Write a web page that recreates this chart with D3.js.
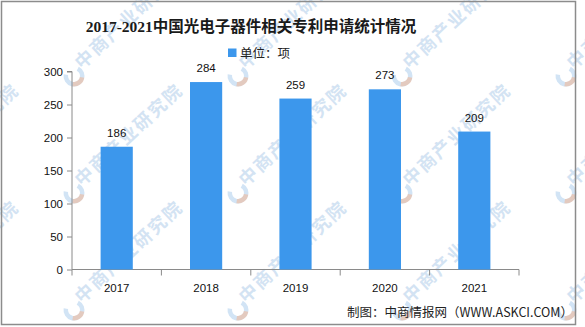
<!DOCTYPE html>
<html>
<head>
<meta charset="utf-8">
<script src="https://cdn.jsdelivr.net/npm/d3@7"></script>
<style>
  html, body { margin: 0; padding: 0; background: #fff; }
  svg { display: block; }
</style>
</head>
<body>
<svg id="chart" width="585" height="327"></svg>
<script>
// 2017-2021 中国光电子器件相关专利申请数量（项）
const years = ["2017", "2018", "2019", "2020", "2021"];
const patents = [186, 284, 259, 273, 209];
const yTicks = [0, 50, 100, 150, 200, 250, 300];

const titleText = "2017-2021中国光电子器件相关专利申请统计情况";
const legendText = "单位：项";
const sourceText = "制图：中商情报网（WWW.ASKCI.COM）";
const watermarkText = "中商产业研究院";

const svg = d3.select("#chart");
const barColor = "#3c97ec";
const axisColor = "#8a8a8a";
const labelFont = "'Liberation Sans', Arial, sans-serif";

// background watermark grid
const wm = svg.append("g").attr("class", "watermark");
const wmCols = [-90, 74, 238, 402, 566];
const wmRows = [76, 193, 310];
wmRows.forEach(wy => wmCols.forEach(wx => {
  const g = wm.append("g").attr("transform", `translate(${wx},${wy})`);
  const arc = d3.arc().innerRadius(6).outerRadius(10.5);
  g.append("path")
    .attr("d", arc({startAngle: Math.PI * 0.15, endAngle: Math.PI * 1.55}))
    .attr("fill", "#9cc3e8").attr("opacity", 0.45);
  g.append("path")
    .attr("d", arc({startAngle: Math.PI * 0.55, endAngle: Math.PI * 1.05}))
    .attr("fill", "#f3b08a").attr("opacity", 0.5);
  g.append("text")
    .attr("transform", "translate(8,-6) rotate(-43)")
    .attr("font-family", "'Noto Sans CJK SC', sans-serif")
    .attr("font-size", 18)
    .attr("font-weight", "bold")
    .attr("letter-spacing", 2)
    .attr("fill", "#a9c8e8")
    .attr("opacity", 0.5)
    .text(watermarkText);
}));

// outer frame
svg.append("rect")
  .attr("x", 1.5).attr("y", 1.5)
  .attr("width", 574).attr("height", 323)
  .attr("fill", "none")
  .attr("stroke", "#8c8c8c")
  .attr("stroke-width", 1.5);

// title
svg.append("text")
  .attr("x", 251).attr("y", 32)
  .attr("text-anchor", "middle")
  .attr("font-family", "'Liberation Serif', 'Noto Sans CJK SC', serif")
  .attr("font-weight", "bold")
  .attr("font-size", 15.5)
  .attr("fill", "#1a1a1a")
  .text(titleText);

// legend
svg.append("rect")
  .attr("x", 228).attr("y", 48.5)
  .attr("width", 8.5).attr("height", 8.5)
  .attr("fill", barColor);
svg.append("text")
  .attr("x", 240).attr("y", 57.5)
  .attr("font-family", "'Noto Sans CJK SC', sans-serif")
  .attr("font-size", 12.5)
  .attr("fill", "#222")
  .text(legendText);

// scales
const x = d3.scaleBand()
  .domain(years)
  .range([72, 519])
  .paddingInner(0.64)
  .paddingOuter(0.32);
const y = d3.scaleLinear()
  .domain([0, 300])
  .range([269.5, 71.5]);

// y axis
const yAxis = svg.append("g")
  .attr("transform", "translate(72,0)")
  .call(d3.axisLeft(y).tickValues(yTicks).tickSize(5).tickPadding(4));
yAxis.select(".domain").attr("stroke", axisColor).attr("d", `M-5,${y(300)}H0V${y(0)}`);
yAxis.selectAll(".tick line").attr("stroke", axisColor);
yAxis.selectAll(".tick text")
  .attr("font-family", labelFont)
  .attr("font-size", 11.5)
  .attr("fill", "#111");

// x axis: labels centered under bars, ticks at category boundaries
const xAxis = svg.append("g")
  .attr("transform", `translate(0,${y(0)})`)
  .call(d3.axisBottom(x).tickSize(0).tickPadding(14));
xAxis.select(".domain").attr("stroke", axisColor).attr("d", `M72,0H519`);
xAxis.selectAll(".tick text")
  .attr("font-family", labelFont)
  .attr("font-size", 11.5)
  .attr("fill", "#111");
const step = x.step();
const boundaries = d3.range(years.length + 1).map(i => x.range()[0] + i * step);
xAxis.selectAll("line.bound")
  .data(boundaries)
  .join("line")
  .attr("class", "bound")
  .attr("x1", d => d).attr("x2", d => d)
  .attr("y1", 0).attr("y2", 6)
  .attr("stroke", axisColor);

// bars
svg.append("g")
  .selectAll("rect")
  .data(years)
  .join("rect")
  .attr("x", d => x(d))
  .attr("y", (d, i) => y(patents[i]))
  .attr("width", x.bandwidth())
  .attr("height", (d, i) => y(0) - y(patents[i]))
  .attr("fill", barColor);

// value labels
svg.append("g")
  .selectAll("text")
  .data(years)
  .join("text")
  .attr("x", d => x(d) + x.bandwidth() / 2)
  .attr("y", (d, i) => y(patents[i]) - 10)
  .attr("text-anchor", "middle")
  .attr("font-family", labelFont)
  .attr("font-size", 11.5)
  .attr("fill", "#111")
  .text((d, i) => patents[i]);

// source note
svg.append("text")
  .attr("x", 573).attr("y", 317)
  .attr("text-anchor", "end")
  .attr("font-family", "'Noto Sans CJK SC', sans-serif")
  .attr("font-size", 12.5)
  .attr("fill", "#222")
  .text(sourceText);
</script>
</body>
</html>
